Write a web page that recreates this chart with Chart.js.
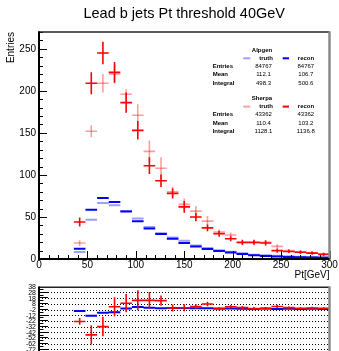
<!DOCTYPE html>
<html><head><meta charset="utf-8">
<script src="https://cdn.jsdelivr.net/npm/chart.js@4.4.1/dist/chart.umd.min.js"></script>
<style>
html,body{margin:0;padding:0;background:#fff;overflow:hidden;width:339px;height:351px;}
#main{position:absolute;left:0;top:0;}
#ratio{position:absolute;left:0;top:280px;}
</style></head><body>
<canvas id="main" width="339" height="282"></canvas>
<canvas id="ratio" width="339" height="100"></canvas>
<script>
// ---- data ----
const titleText = 'Lead b jets Pt threshold 40GeV';
const binCenters = [42,54,66,78,90,102,114,126,138,150,162,174,186,198,210,222,234,246,258,270,282,294];
const binWidth = 12;
const sherpaRecon    = [44,209,245,222,186,153,111,93,78,62,50,37,30,24,20,20,19,10,9,8,7,5.5];
const sherpaReconErr = [5.4,13,13.5,12.3,12,11,9.9,7.5,6,7,5,4,3.5,3,3,3,3,2.5,2,2,2,1.5];
const sherpaTruth    = [19,152,209,220,196,171,128,108,80,65,57,45,32,28.5,19,19,20,15,10,8.5,7.5,6];
const sherpaTruthErr = [3.4,7,11,11,6,13,13,13,6,7,6,6,3,3,2.5,2.5,2.5,2.5,2,2,2,2];
const alpgenRecon    = [12.2,58.6,72.5,67.8,56.6,45,36.4,29.7,24.1,19,15,12,9.5,7.7,6,4.5,3.7,3.1,2.5,2.1,1.8,1.4];
const alpgenTruth    = [8.3,46.7,66.6,63.8,57,48.3,38,30.5,25.7,21.8,16,13,10.3,8.5,6.8,5.2,4.4,3.8,3.2,2.8,2.5,2.1];
const ratioAlpgen    = [-3.6,-12,-6.8,-5.8,0.6,3.2,2.2,1,1.5,1.5,1,1,0.5,0.5,0.3,0,0.5,0,0.3,0,0.2,0];
const ratioSherpa    = [-22,-45.6,-31,3.8,10,15,15,14.5,1.5,2,4.3,8.5,0,3.7,2.2,0.5,0.5,4.3,2.2,1,1.6,1];
const ratioSherpaErr = [6,17,17,16.5,16,17.5,14.5,9,6,6,4,4,3,3,3,3,3,3,2,2,2,2];
const alpgenStats = {entries:['84767','84767'], mean:['112.1','106.7'], integral:['498.3','500.6']};
const sherpaStats = {entries:['43362','43362'], mean:['110.4','103.2'], integral:['1128.1','1136.8']};

const F = "'Liberation Sans', Arial, Helvetica, sans-serif";
const RED = '#ff0000', LRED = 'rgba(255,0,0,0.38)', BLUE = '#0000ff', LBLUE = 'rgba(0,0,255,0.38)';

function hSeg(vals){const p=[];vals.forEach((v,i)=>{const c=binCenters[i];p.push({x:c-binWidth/2,y:v},{x:c+binWidth/2,y:v},{x:c,y:null});});return p;}
function vSeg(vals,errs){const p=[];vals.forEach((v,i)=>{const c=binCenters[i];p.push({x:c,y:v-errs[i]},{x:c,y:v+errs[i]},{x:c,y:null});});return p;}
function ds(data,color,w,order){return {data,borderColor:color,backgroundColor:color,borderWidth:w,pointRadius:0,spanGaps:false,fill:false,tension:0,borderCapStyle:'butt',order};}

function framePlugin(cfg){
  return {id:'frame'+cfg.name, afterDatasetsDraw(chart){
    const {ctx,chartArea:a,scales:{x,y}} = chart;
    ctx.save();
    ctx.strokeStyle='#000'; ctx.lineWidth=1; ctx.setLineDash([]);
    ctx.beginPath();
    for(let v=cfg.yMin; v<=cfg.yMax+1e-9; v+=cfg.yMinor){
      const py=Math.round(y.getPixelForValue(v))+0.5;
      if(py<a.top||py>a.bottom+1) continue;
      const major = Math.abs(v/cfg.yMajor-Math.round(v/cfg.yMajor))<1e-6;
      const len = major?cfg.majLen:cfg.minLen;
      ctx.moveTo(a.left,py); ctx.lineTo(a.left+len,py);
    }
    if(cfg.xTicks){
      for(let v=0; v<=300; v+=10){
        const px=Math.round(x.getPixelForValue(v))+0.5;
        const len=(v%50===0)?cfg.majLen:cfg.minLen;
        ctx.moveTo(px,a.bottom); ctx.lineTo(px,a.bottom-len);
      }
    }
    ctx.stroke();
    // frame
    ctx.strokeStyle='#222'; ctx.lineWidth=1.5;
    ctx.beginPath(); ctx.moveTo(a.left,a.top); ctx.lineTo(a.right,a.top); ctx.stroke();
    ctx.strokeStyle='#8a8a8a'; ctx.lineWidth=2.5;
    ctx.beginPath(); ctx.moveTo(a.right,a.top-0.7); ctx.lineTo(a.right,a.bottom+1); ctx.stroke();
    ctx.strokeStyle='#000'; ctx.lineWidth=2;
    ctx.beginPath(); ctx.moveTo(a.left,a.top-0.7); ctx.lineTo(a.left,a.bottom+1); ctx.stroke();
    if(cfg.xTicks){ctx.beginPath(); ctx.moveTo(a.left-1,a.bottom); ctx.lineTo(a.right,a.bottom); ctx.stroke();}
    ctx.restore();
  }};
}

const statsPlugin = {id:'stats', afterDraw(chart){
  const ctx=chart.ctx; ctx.save(); ctx.fillStyle='#000'; ctx.textBaseline='middle';
  const bold='bold 6px '+F, norm='6px '+F;
  function block(name, stats, y0, lc, dc){
    ctx.font=bold; ctx.textAlign='center';
    ctx.fillText(name,262,y0);
    ctx.fillText('truth',266,y0+8.3); ctx.fillText('recon',306,y0+8.3);
    ctx.lineWidth=2;
    ctx.strokeStyle=lc; ctx.beginPath(); ctx.moveTo(243.3,y0+8.3); ctx.lineTo(250.3,y0+8.3); ctx.stroke();
    ctx.strokeStyle=dc; ctx.beginPath(); ctx.moveTo(282.7,y0+8.3); ctx.lineTo(289,y0+8.3); ctx.stroke();
    const rows=[['Entries',stats.entries,16.2],['Mean',stats.mean,24.8],['Integral',stats.integral,33.3]];
    rows.forEach(r=>{
      ctx.font=bold; ctx.textAlign='left'; ctx.fillText(r[0],212.7,y0+r[2]);
      ctx.font=norm; ctx.textAlign='center'; ctx.fillText(r[1][0],263.5,y0+r[2]); ctx.fillText(r[1][1],305.8,y0+r[2]);
    });
  }
  block('Alpgen',alpgenStats,50,LBLUE,BLUE);
  block('Sherpa',sherpaStats,98.3,LRED,RED);
  ctx.restore();
}};

const LW = 1.6;
new Chart(document.getElementById('main'),{
  type:'line',
  data:{datasets:[
    ds(hSeg(sherpaRecon),RED,LW,1), ds(vSeg(sherpaRecon,sherpaReconErr),RED,LW,1),
    ds(hSeg(alpgenRecon),BLUE,2,2),
    ds(hSeg(sherpaTruth),LRED,LW,3), ds(vSeg(sherpaTruth,sherpaTruthErr),LRED,LW,3),
    ds(hSeg(alpgenTruth),LBLUE,2,4)
  ]},
  options:{
    responsive:false, animation:false, events:[],
    layout:{padding:{left:0,right:9.5,top:0,bottom:0}},
    plugins:{legend:{display:false},tooltip:{enabled:false},
      title:{display:true,fullSize:false,text:titleText,color:'#000',font:{family:F,size:14.5,weight:'normal'},padding:{top:5,bottom:9.6}}},
    scales:{
      x:{type:'linear',min:0,max:300,afterFit(s){s.height=23;},
        grid:{display:false,drawTicks:false},border:{display:false},
        ticks:{stepSize:50,padding:0,color:'#000',font:{family:F,size:10},maxRotation:0,autoSkip:false,includeBounds:false},
        title:{display:true,text:'Pt[GeV]',align:'end',color:'#000',font:{family:F,size:10},padding:{top:0,bottom:1}}},
      y:{type:'linear',min:0,max:270,afterFit(s){s.width=39;},
        grid:{display:false,drawTicks:false},border:{display:false},
        ticks:{stepSize:50,padding:3,color:'#000',font:{family:F,size:10},autoSkip:false,includeBounds:false},
        title:{display:true,text:'Entries',align:'end',color:'#000',font:{family:F,size:10},padding:{top:5,bottom:0}}}
    }
  },
  plugins:[framePlugin({name:'m',yMin:0,yMax:270,yMinor:10,yMajor:50,majLen:8,minLen:4,xTicks:true}),statsPlugin]
});

new Chart(document.getElementById('ratio'),{
  type:'line',
  data:{datasets:[
    ds(hSeg(ratioSherpa),RED,LW,1), ds(vSeg(ratioSherpa,ratioSherpaErr),RED,LW,1),
    ds(hSeg(ratioAlpgen),BLUE,2,2)
  ]},
  options:{
    responsive:false, animation:false, events:[],
    layout:{padding:{left:0,right:9.5,top:4.3,bottom:0.45}},
    plugins:{legend:{display:false},tooltip:{enabled:false}},
    scales:{
      x:{type:'linear',min:0,max:300,display:false},
      y:{type:'linear',min:-112,max:38,afterFit(s){s.width=39;},
        grid:{color:'#000',lineWidth:1,drawTicks:false},border:{display:false,dash:[1,2]},
        ticks:{stepSize:10,padding:3,color:'#000',font:{family:F,size:7},autoSkip:false,includeBounds:false}}
    }
  },
  plugins:[framePlugin({name:'r',yMin:-110,yMax:35,yMinor:5,yMajor:10,majLen:9,minLen:4.5,xTicks:false})]
});
</script>
</body></html>
